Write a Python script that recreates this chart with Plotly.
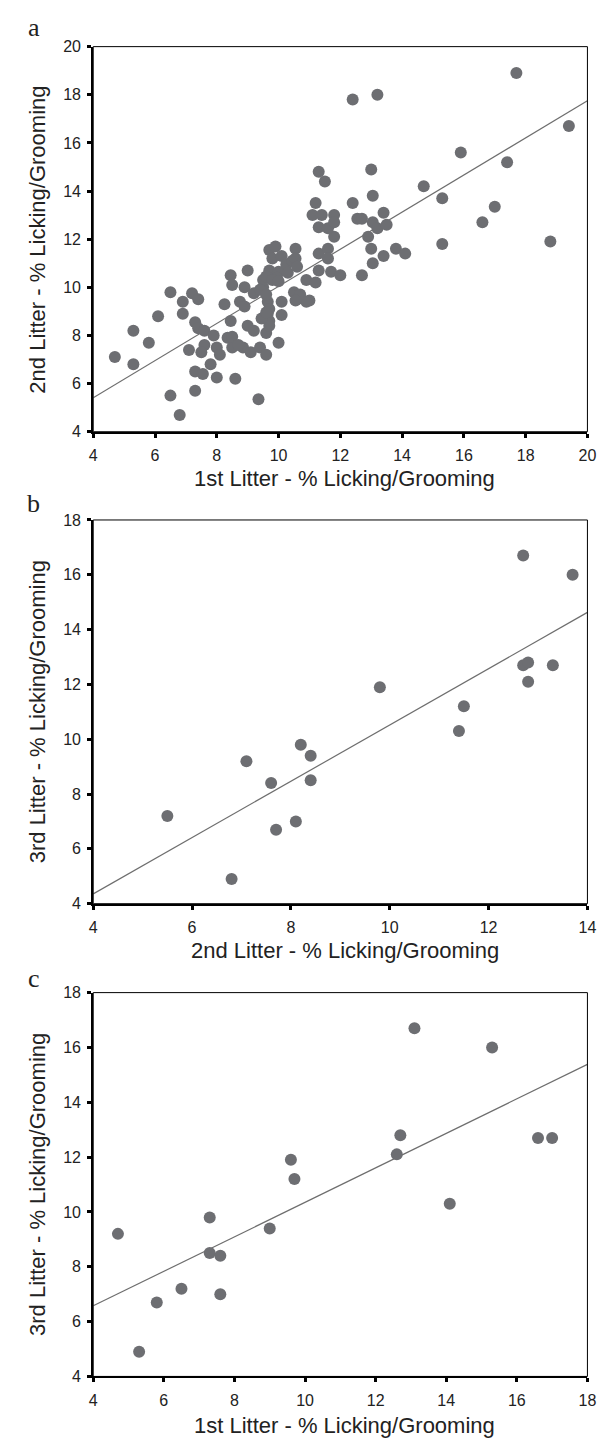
import plotly.graph_objects as go

# ---------------- data ----------------
# Panel a: 1st litter (x) vs 2nd litter (y)
a_x = [4.7, 5.3, 5.3, 5.8, 6.1, 6.5, 6.5, 6.8, 6.9, 6.9,
       7.2, 7.4, 7.3, 7.4, 7.6, 7.1, 7.6, 7.5, 7.3, 7.55,
       7.3, 7.9, 7.8, 8.0, 8.1, 8.0, 8.25, 8.45, 8.35, 8.5,
       8.45, 8.5, 8.6, 8.75, 8.9, 8.85, 8.9, 9.0, 9.0, 9.2,
       9.1, 9.2, 9.35, 9.4, 9.5, 9.5, 9.6, 9.65, 9.65, 9.6,
       9.7, 9.7, 9.7, 10.0, 10.1, 10.1, 9.7, 9.9, 9.8, 10.1,
       10.55, 9.7, 9.6, 10.0, 10.25, 10.45, 10.55, 10.3, 9.95, 10.5,
       10.6, 11.0, 10.9, 11.2, 11.3, 11.6, 11.6, 11.3, 11.7, 12.0,
       11.8, 11.3, 11.5, 11.2, 11.1, 11.4, 11.8, 11.3, 11.6, 11.8,
       12.4, 12.55, 12.7, 12.9, 13.0, 13.05, 13.05, 13.0, 13.05, 12.7,
       13.4, 13.2, 13.5, 13.4, 13.8, 14.1, 12.4, 13.2, 17.7, 19.4,
       14.7, 15.3, 15.9, 17.4, 17.0, 16.6, 15.3, 18.8, 10.9, 9.8,
       10.0, 10.6, 9.4, 9.6, 10.7, 9.45, 9.6, 8.5, 8.7, 10.55]
a_y = [7.1, 6.8, 8.2, 7.7, 8.8, 9.8, 5.5, 4.7, 9.4, 8.9,
       9.75, 9.5, 8.55, 8.3, 8.2, 7.4, 7.6, 7.3, 6.5, 6.4,
       5.7, 8.0, 6.8, 7.5, 7.2, 6.25, 9.3, 8.6, 7.9, 7.5,
       10.5, 10.1, 6.2, 9.4, 9.2, 7.5, 10.0, 10.7, 8.4, 8.2,
       7.3, 9.75, 5.35, 7.5, 10.0, 10.3, 7.2, 9.4, 8.9, 8.1,
       8.6, 8.4, 9.1, 7.7, 8.85, 9.4, 11.55, 11.7, 11.2, 11.3,
       11.6, 10.7, 10.45, 10.65, 10.95, 11.1, 11.2, 10.6, 10.4, 9.8,
       9.5, 9.45, 10.3, 10.2, 11.4, 11.6, 11.2, 10.7, 10.65, 10.5,
       12.1, 14.8, 14.4, 13.5, 13.0, 13.0, 13.0, 12.5, 12.45, 12.7,
       13.5, 12.85, 12.85, 12.1, 14.9, 13.8, 12.7, 11.6, 11.0, 10.5,
       13.1, 12.45, 12.6, 11.3, 11.6, 11.4, 17.8, 18.0, 18.9, 16.7,
       14.2, 13.7, 15.6, 15.2, 13.35, 12.7, 11.8, 11.9, 9.4, 10.3,
       10.25, 10.85, 9.9, 9.7, 9.7, 8.7, 8.95, 7.95, 7.6, 9.45]

# Panel b: 2nd litter (x) vs 3rd litter (y)
b_x = [5.5, 6.8, 7.1, 7.6, 7.7, 8.1, 8.2, 8.4, 8.4, 9.8,
       11.4, 11.5, 12.7, 12.7, 12.8, 12.8, 13.3, 13.7]
b_y = [7.2, 4.9, 9.2, 8.4, 6.7, 7.0, 9.8, 9.4, 8.5, 11.9,
       10.3, 11.2, 16.7, 12.7, 12.8, 12.1, 12.7, 16.0]

# Panel c: 1st litter (x) vs 3rd litter (y)
c_x = [4.7, 5.3, 5.8, 6.5, 7.3, 7.3, 7.6, 7.6, 9.0, 9.6,
       9.7, 12.6, 12.7, 13.1, 14.1, 15.3, 16.6, 17.0]
c_y = [9.2, 4.9, 6.7, 7.2, 9.8, 8.5, 8.4, 7.0, 9.4, 11.9,
       11.2, 12.1, 12.8, 16.7, 10.3, 16.0, 12.7, 12.7]

# regression lines: (slope, intercept)
fit_a = (0.771, 2.33)
fit_b = (1.027, 0.25)
fit_c = (0.629, 4.06)

x_ranges = [(4, 20), (4, 14), (4, 18)]
y_ranges = [(4, 20), (4, 18), (4, 18)]
panel_letters = ["a", "b", "c"]
x_titles = ["1st Litter - % Licking/Grooming",
            "2nd Litter - % Licking/Grooming",
            "1st Litter - % Licking/Grooming"]
y_titles = ["2nd Litter - % Licking/Grooming",
            "3rd Litter - % Licking/Grooming",
            "3rd Litter - % Licking/Grooming"]

# ---------------- layout geometry (pixels) ----------------
W, H = 608, 1439
left_px, right_px = 83, 588
tops = [31, 510, 988.3]
bottoms = [420.7, 898.3, 1376.7]
xtitle_y = [468, 946, 1426]
letter_y = [12, 493, 974]

MARK = "#6d6e72"
LINE = "#6e6e6e"
FONT = "Liberation Sans, Arial, Helvetica, sans-serif"

fig = go.Figure()
datasets = [(a_x, a_y, fit_a), (b_x, b_y, fit_b), (c_x, c_y, fit_c)]
annotations = []
shapes = []
for i, (xs, ys, fit) in enumerate(datasets):
    sfx = "" if i == 0 else str(i + 1)
    xr = x_ranges[i]
    fig.add_trace(go.Scatter(
        x=list(xr), y=[fit[0] * v + fit[1] for v in xr],
        mode="lines", line=dict(color=LINE, width=1.2),
        xaxis="x" + sfx, yaxis="y" + sfx, showlegend=False, hoverinfo="skip"))
    fig.add_trace(go.Scatter(
        x=xs, y=ys, mode="markers",
        marker=dict(size=12, color=MARK, line=dict(width=0)),
        xaxis="x" + sfx, yaxis="y" + sfx, showlegend=False))

    axis_common = dict(showline=True, linewidth=2, linecolor="black",
                       ticks="outside", ticklen=4, tickwidth=3, tickcolor="black",
                       showgrid=False, zeroline=False,
                       tickfont=dict(family=FONT, size=16, color="#222"),
                       dtick=2, tick0=0)
    fig.update_layout(**{
        "xaxis" + sfx: dict(axis_common, domain=[left_px / W, right_px / W],
                            range=list(xr), anchor="y" + sfx,
                            ticklabelstandoff=4),
        "yaxis" + sfx: dict(axis_common,
                            domain=[1 - bottoms[i] / H, 1 - tops[i] / H],
                            range=list(y_ranges[i]), anchor="x" + sfx,
                            ticklabelstandoff=3),
    })
    shapes.append(dict(type="rect", xref="x" + sfx + " domain", yref="y" + sfx + " domain",
                       x0=0, x1=1, y0=0, y1=1, line=dict(color="black", width=1),
                       layer="above"))
    annotations.append(dict(text=x_titles[i], xref="paper", yref="paper",
                            x=340 / W, y=1 - xtitle_y[i] / H,
                            xanchor="center", yanchor="middle", showarrow=False,
                            font=dict(family=FONT, size=22, color="#222")))
    annotations.append(dict(text=y_titles[i], xref="paper", yref="paper",
                            x=26 / W, y=1 - (tops[i] + bottoms[i]) / 2 / H,
                            xanchor="center", yanchor="middle", showarrow=False,
                            textangle=-90,
                            font=dict(family=FONT, size=22, color="#222")))
    annotations.append(dict(text=panel_letters[i], xref="paper", yref="paper",
                            x=22 / W, y=1 - letter_y[i] / H,
                            xanchor="center", yanchor="middle", showarrow=False,
                            font=dict(family="Liberation Serif, Times New Roman, serif",
                                      size=26, color="#222")))

fig.update_layout(width=W, height=H, margin=dict(l=0, r=0, t=0, b=0),
                  plot_bgcolor="white", paper_bgcolor="white",
                  annotations=annotations, shapes=shapes, showlegend=False)

fig.write_html("out.html")
